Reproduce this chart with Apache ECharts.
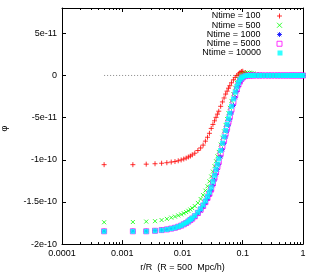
<!DOCTYPE html>
<html><head><meta charset="utf-8">
<script src="https://cdn.jsdelivr.net/npm/echarts@6/dist/echarts.min.js"></script>
<style>html,body{margin:0;padding:0;background:#fff}#c{width:312px;height:277px}</style>
</head><body><div id="c"></div>
<script>
// r/R sample positions
const r = [0.0005,0.0015,0.0025,0.0035,0.0045,0.0055,0.0065,0.0075,0.0085,0.0095,
  0.0105,0.0115,0.0125,0.0135,0.0145,0.016,0.018,0.02,0.022,0.024,
  0.026,0.028,0.03,0.032,0.034,0.036,0.038,0.04,0.043,0.046,
  0.049,0.052,0.055,0.058,0.061,0.065,0.07,0.075,0.08,0.085,
  0.09,0.095,0.1,0.11,0.12,0.13,0.14,0.15,0.17,0.19,
  0.21,0.24,0.27,0.3,0.34,0.38,0.42,0.47,0.52,0.58,
  0.64,0.7,0.77,0.85,0.93,0.9995];
// phi values in units of 1e-12
const phi100 = [-105.8,-105.8,-105.2,-104.7,-104.1,-103.5,-102.7,-102.1,-101.2,-100.2,
  -99.1,-98.0,-96.7,-95.6,-94.2,-92.2,-89.0,-86.0,-82.6,-77.9,
  -73.3,-68.6,-62.8,-58.1,-53.8,-49.7,-45.9,-42.4,-36.6,-31.4,
  -26.7,-22.1,-18.6,-15.1,-12.2,-8.7,-5.2,-2.3,0,1.7,
  3.5,4.7,5.0,3.5,1.2,0,0,0,0,0,
  0,0,0,0,0,0,0,0,0,0,
  0,0,0,0,0,0];
const phi500 = [-174.1,-173.8,-173.3,-172.8,-171.5,-170.1,-168.6,-167.4,-166.0,-164.8,
  -163.4,-162.0,-160.5,-159.0,-157.3,-154.9,-151.2,-146.5,-141.9,-136.6,
  -131.4,-125.6,-119.8,-114.0,-107.6,-101.7,-95.9,-90.7,-82.0,-73.8,
  -66.3,-58.7,-51.7,-44.8,-38.4,-30.2,-22.1,-14.5,-8.7,-4.1,
  -1.2,0.6,1.7,2.9,3.5,3.3,2.9,2.3,1.7,0.9,
  0,0,0,0,0,0,0,0,0,0,
  0,0,0,0,0,0];
const phi1000 = [-184.6,-184.6,-184.6,-184.0,-183.3,-182.5,-181.6,-180.7,-179.5,-178.3,
  -176.8,-175.4,-173.8,-172.0,-170.5,-167.8,-164.0,-160.3,-156.0,-151.6,
  -146.8,-142.0,-136.8,-130.5,-124.0,-117.5,-111.5,-105.5,-96.5,-88.0,
  -80.5,-73.0,-66.0,-59.0,-52.5,-44.5,-35.5,-26.5,-19.0,-13.0,
  -8.5,-5.0,-3.0,-1.0,-0.3,0,0,0,0,0,
  0,0,0,0,0,0,0,0,0,0,
  0,0,0,0,0,0];
const phi5000 = [-184.8,-184.8,-184.8,-184.2,-183.4,-182.6,-181.6,-180.6,-179.4,-178.1,
  -176.5,-175.0,-173.3,-171.4,-169.8,-167.0,-163.1,-159.2,-154.7,-150.2,
  -145.2,-140.2,-134.7,-128.0,-121.3,-114.5,-108.3,-102.1,-92.7,-84.1,
  -76.6,-69.0,-62.0,-55.1,-48.6,-40.5,-31.7,-23.1,-16.2,-10.8,
  -6.8,-4.0,-2.3,-0.8,-0.1,0,0,0,0,0,
  0,0,0,0,0,0,0,0,0,0,
  0,0,0,0,0,0];
const phi10000 = [-184.9,-184.9,-184.9,-184.3,-183.5,-182.6,-181.6,-180.6,-179.3,-177.9,
  -176.2,-174.7,-172.9,-170.9,-169.2,-166.3,-162.2,-158.1,-153.5,-148.8,
  -143.6,-138.4,-132.6,-125.6,-118.6,-111.6,-105.2,-98.8,-89.0,-80.2,
  -72.7,-65.1,-58.1,-51.2,-44.8,-36.6,-27.9,-19.8,-13.4,-8.7,
  -5.2,-2.9,-1.7,-0.6,0,0,0,0,0,0,
  0,0,0,0,0,0,0,0,0,0,
  0,0,0,0,0,0];
const zeroLine = [[0.0005,0],[1,0]];
const seriesNames = ['Ntime = 100','Ntime = 500','Ntime = 1000','Ntime = 5000','Ntime = 10000'];
const yTickVals = [-200,-150,-100,-50,0,50];
const yTickLabels = ['-2e-10','-1.5e-10','-1e-10','-5e-11','0','5e-11'];
const xTickVals = [0.0001,0.001,0.01,0.1,1];
const xTickLabels = ['0.0001','0.001','0.01','0.1','1'];
const xMinorTicks = [0.0002,0.0003,0.0004,0.0005,0.0006,0.0007,0.0008,0.0009,
  0.002,0.003,0.004,0.005,0.006,0.007,0.008,0.009,
  0.02,0.03,0.04,0.05,0.06,0.07,0.08,0.09,
  0.2,0.3,0.4,0.5,0.6,0.7,0.8,0.9];
const xTitle = 'r/R  (R = 500  Mpc/h)';
const yTitle = 'φ';

const Y_MIN = -200, Y_MAX = 80;
const FONT = 'Liberation Sans';
const zip = (ys) => r.map((x, i) => [x, ys[i]]);

const symPlus = 'path://M0,5L10,5M5,0L5,10';
const symCross = 'path://M0,0L10,10M10,0L0,10';
const symStar = 'path://M0,5L10,5M5,0L5,10M1.5,1.5L8.5,8.5M8.5,1.5L1.5,8.5';
const styles = [
  {symbol: symPlus, size: 5, itemStyle: {color: 'rgba(0,0,0,0)', borderColor: '#ff0000', borderWidth: 1}},
  {symbol: symCross, size: 4, itemStyle: {color: 'rgba(0,0,0,0)', borderColor: '#00ff00', borderWidth: 1}},
  {symbol: symStar, size: 5, itemStyle: {color: 'rgba(0,0,0,0)', borderColor: '#0000ff', borderWidth: 1}},
  {symbol: 'rect', size: 5, itemStyle: {color: 'rgba(0,0,0,0)', borderColor: '#ff00ff', borderWidth: 1}},
  {symbol: 'rect', size: 5, itemStyle: {color: '#00ffff', borderWidth: 0}}
];
const allData = [phi100, phi500, phi1000, phi5000, phi10000];

const chart = echarts.init(document.getElementById('c'), null, {renderer: 'canvas'});
const axisLineStyle = {color: '#000', width: 1};
const xFmt = (v) => { for (let i = 0; i < xTickVals.length; i++) if (Math.abs(Math.log10(v) - Math.log10(xTickVals[i])) < 1e-6) return xTickLabels[i]; return ''; };
const yFmt = (v) => { const i = yTickVals.indexOf(Math.round(v)); return i >= 0 ? yTickLabels[i] : ''; };

chart.setOption({
  animation: false,
  backgroundColor: '#fff',
  grid: {left: 62, right: 9, top: 8, bottom: 28, containLabel: false},
  graphic: [{
    type: 'text', x: 4.5, y: 128.5, rotation: Math.PI / 2, silent: true,
    style: {text: yTitle, fontSize: 9, fontFamily: FONT, fill: '#000', align: 'center', verticalAlign: 'middle'}
  }],
  xAxis: [
    {type: 'log', logBase: 10, min: 0.0001, max: 1, position: 'bottom',
     name: xTitle, nameLocation: 'middle', nameGap: 17,
     nameTextStyle: {fontSize: 9, color: '#000', fontFamily: FONT},
     axisLine: {show: true, onZero: false, lineStyle: axisLineStyle},
     axisTick: {show: true, inside: true, length: 4, lineStyle: axisLineStyle},
     axisLabel: {show: true, formatter: xFmt, fontSize: 9, color: '#000', fontFamily: FONT, margin: 5},
     splitLine: {show: false}, minorTick: {show: false}},
    {type: 'log', logBase: 10, min: 0.0001, max: 1, position: 'top',
     axisLine: {show: true, onZero: false, lineStyle: axisLineStyle},
     axisTick: {show: true, inside: true, length: 4, lineStyle: axisLineStyle},
     axisLabel: {show: false}, splitLine: {show: false}}
  ],
  yAxis: [
    {type: 'value', min: Y_MIN, max: Y_MAX, interval: 50, position: 'left',
     axisLine: {show: true, onZero: false, lineStyle: axisLineStyle},
     axisTick: {show: true, inside: true, length: 4, lineStyle: axisLineStyle},
     axisLabel: {show: true, formatter: yFmt, fontSize: 9, color: '#000', fontFamily: FONT, margin: 5, showMaxLabel: false},
     splitLine: {show: false}},
    {type: 'value', min: Y_MIN, max: Y_MAX, interval: 50, position: 'right',
     axisLine: {show: true, onZero: false, lineStyle: axisLineStyle},
     axisTick: {show: true, inside: true, length: 4, lineStyle: axisLineStyle},
     axisLabel: {show: false}, splitLine: {show: false}}
  ],
  legend: seriesNames.map((n, i) => ({
    data: [{name: n, icon: styles[i].symbol, itemStyle: styles[i].itemStyle}],
    orient: 'vertical', align: 'right', right: 29.5, top: 11.5 + i * 9.25,
    itemWidth: 5, itemHeight: 5, itemGap: 0, padding: 0, selectedMode: false,
    textStyle: {fontSize: 9, color: '#000', fontFamily: FONT, padding: [0, 11.5, 0, 0]}
  })),
  series: [
    {type: 'line', data: zeroLine, symbol: 'none', silent: true, z: 1,
     lineStyle: {color: '#888', width: 1, type: [1, 2]}},
    {type: 'custom', silent: true, z: 10, data: xMinorTicks.map(v => [v, Y_MIN]),
     renderItem: (params, api) => {
       const v = api.value(0);
       const b = api.coord([v, Y_MIN]);
       const t = api.coord([v, Y_MAX]);
       const x = Math.round(b[0]) + 0.5;
       return {type: 'group', children: [
         {type: 'line', shape: {x1: x, y1: b[1], x2: x, y2: b[1] - 2}, style: {stroke: '#000', lineWidth: 1}},
         {type: 'line', shape: {x1: x, y1: t[1], x2: x, y2: t[1] + 2}, style: {stroke: '#000', lineWidth: 1}}
       ]};
     }}
  ].concat(seriesNames.map((n, i) => ({
    name: n, type: 'scatter', data: zip(allData[i]), symbol: styles[i].symbol,
    symbolSize: styles[i].size, z: 2, itemStyle: styles[i].itemStyle
  })))
});
</script></body></html>
